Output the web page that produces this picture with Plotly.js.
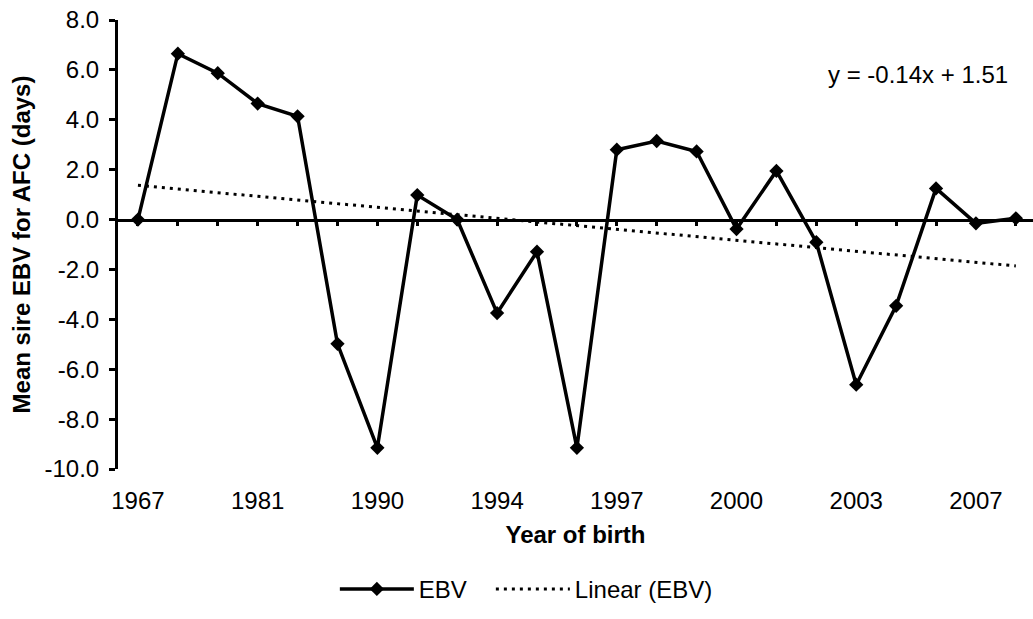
<!DOCTYPE html>
<html>
<head>
<meta charset="utf-8">
<script src="https://cdn.plot.ly/plotly-3.0.1.min.js"></script>
<style>html,body{margin:0;padding:0;background:#fff;}#chart{width:1033px;height:619px;}</style>
</head>
<body>
<div id="chart"></div>
<script>
// Categories (year of birth); only every third one is labelled in the chart
const years = ['1967','1975','1979','1981','1983','1986','1990','1992','1993','1994','1995','1996','1997','1998','1999','2000','2001','2002','2003','2004','2005','2007','2008'];
// Mean sire EBV for AFC (days)
const ebv = [0.0, 6.65, 5.87, 4.65, 4.14, -4.98, -9.15, 0.98, 0.0, -3.75, -1.29, -9.15, 2.80, 3.15, 2.73, -0.38, 1.95, -0.91, -6.62, -3.46, 1.25, -0.15, 0.05];
// Tick labels shown on the x axis
const xTickLabels = ['1967','1981','1990','1994','1997','2000','2003','2007'];
// Y tick values and labels
const yTickVals = [8, 6, 4, 2, 0, -2, -4, -6, -8, -10];
const yTickText = ['8.0','6.0','4.0','2.0','0.0','-2.0','-4.0','-6.0','-8.0','-10.0'];
const equationText = 'y = -0.14x + 1.51';

// Least-squares linear trend (Excel "Linear" trendline) from the data
const n = ebv.length;
const idx = ebv.map((_, i) => i + 1);
const mx = idx.reduce((a, b) => a + b, 0) / n;
const my = ebv.reduce((a, b) => a + b, 0) / n;
let sxy = 0, sxx = 0;
for (let i = 0; i < n; i++) { sxy += (idx[i] - mx) * (ebv[i] - my); sxx += (idx[i] - mx) ** 2; }
const slope = sxy / sxx;
const intercept = my - slope * mx;
const trend = idx.map(x => intercept + slope * x);

const FONT = 'Liberation Sans, Arial, sans-serif';
const FS = 24;
const xRange = [-0.5, 22.43];

const traces = [
  {
    x: years, y: ebv, name: 'EBV', type: 'scatter', mode: 'lines+markers',
    line: {color: '#000', width: 3.5},
    marker: {symbol: 'diamond', size: 11, color: '#000'},
    xaxis: 'x', yaxis: 'y', legend: 'legend'
  },
  {
    x: years, y: trend, name: 'Linear (EBV)', type: 'scatter', mode: 'lines',
    line: {color: '#000', width: 3, dash: '3px,5px'},
    xaxis: 'x2', yaxis: 'y', legend: 'legend2'
  }
];

const legendBase = {
  orientation: 'h', xanchor: 'left', y: -0.268, yanchor: 'middle',
  font: {family: FONT, size: FS, color: '#000'}, itemwidth: 74, bgcolor: 'rgba(0,0,0,0)'
};

const layout = {
  width: 1033, height: 619,
  margin: {l: 118, r: 0, t: 20, b: 150},
  paper_bgcolor: '#fff', plot_bgcolor: '#fff',
  font: {family: FONT, size: FS, color: '#000'},
  showlegend: true,
  legend: Object.assign({}, legendBase, {x: 0.237}),
  legend2: Object.assign({}, legendBase, {x: 0.4075}),
  xaxis: {
    type: 'category', range: xRange, showgrid: false, zeroline: false, showline: false,
    tickmode: 'array', tickvals: xTickLabels, ticktext: xTickLabels,
    ticks: 'outside', ticklen: 10, tickcolor: 'rgba(0,0,0,0)',
    tickfont: {family: FONT, size: FS, color: '#000'},
    title: {text: '<b>Year of birth</b>', font: {family: FONT, size: FS, color: '#000'}, standoff: 13},
    fixedrange: true
  },
  xaxis2: {
    type: 'category', overlaying: 'x', anchor: 'free', position: 10 / 18, side: 'bottom',
    range: xRange, showgrid: false, zeroline: false,
    showline: true, linecolor: '#000', linewidth: 3,
    tickmode: 'linear', tick0: 0, dtick: 1,
    ticks: 'outside', ticklen: 4, tickwidth: 3, tickcolor: '#000',
    showticklabels: false, fixedrange: true
  },
  yaxis: {
    range: [-10, 8], showgrid: false, zeroline: false,
    showline: true, linecolor: '#000', linewidth: 3,
    tickmode: 'array', tickvals: yTickVals, ticktext: yTickText,
    ticks: 'outside', ticklen: 6, tickwidth: 3, tickcolor: '#000', ticklabelstandoff: 5,
    tickfont: {family: FONT, size: FS, color: '#000'},
    title: {text: '<b>Mean sire EBV for AFC (days)</b>', font: {family: FONT, size: FS, color: '#000'}, standoff: 8},
    fixedrange: true
  },
  annotations: [{
    xref: 'paper', yref: 'paper', x: 0.874, y: 0.878, xanchor: 'center', yanchor: 'middle',
    text: equationText, showarrow: false, font: {family: FONT, size: FS, color: '#000'}
  }]
};

Plotly.newPlot('chart', traces, layout, {displayModeBar: false, staticPlot: true});
</script>
</body>
</html>
